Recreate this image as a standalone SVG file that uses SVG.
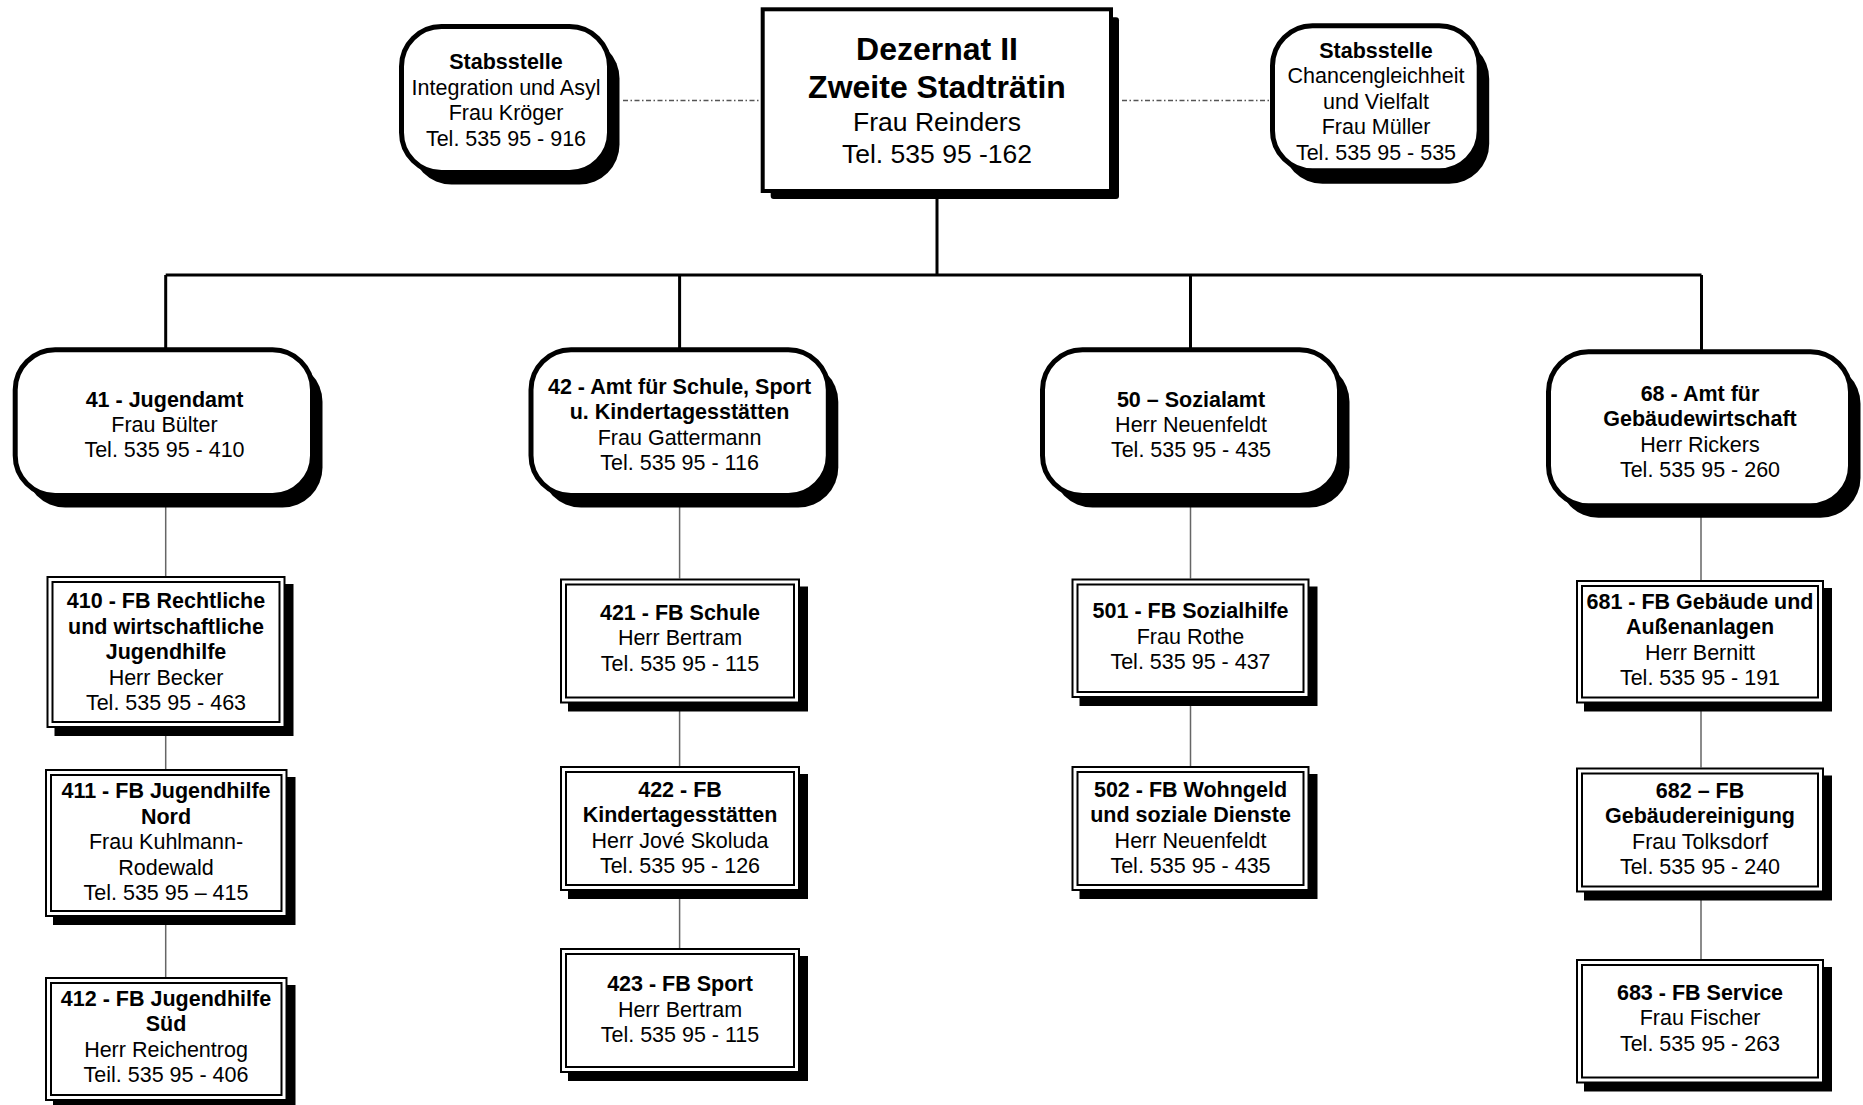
<svg xmlns="http://www.w3.org/2000/svg" width="1863" height="1105" viewBox="0 0 1863 1105">
<style>
.t{font-family:"Liberation Sans",Arial,sans-serif;font-size:21.5px;text-anchor:middle;fill:#000}
.b{font-weight:bold}
.big{font-size:32px;font-weight:bold}
.mid{font-size:26.5px}
.sh{fill:#000}
.rb{fill:#fff;stroke:#000;stroke-width:5}
.db{fill:#fff;stroke:#000;stroke-width:4}
.o{fill:#fff;stroke:#000;stroke-width:2}
.i{fill:none;stroke:#000;stroke-width:2}
.thick{stroke:#000;stroke-width:3;fill:none}
.thin{stroke:#666;stroke-width:1.5;fill:none}
.dash{stroke:#555;stroke-width:1.3;fill:none;stroke-dasharray:5 2.5 1.5 2.5}
</style>
<rect width="1863" height="1105" fill="#fff"/>
<g id="connectors">
<path class="thick" d="M937 193V275M165.7 275H1701.5M165.7 275V348M679.6 275V348M1190.5 275V348M1701.5 275V350"/>
<path class="dash" d="M623 100.5H761M1122 100.5H1270"/>
<path class="thin" d="M165.7 498V576M165.7 728V769M165.7 917V977"/>
<path class="thin" d="M679.6 498V578.5M679.6 703.5V766M679.6 891V948"/>
<path class="thin" d="M1190.5 498V578.5M1190.5 698V766"/>
<path class="thin" d="M1701 508V580M1701 703.5V767.5M1701 892.5V959"/>
</g>
<g id="dezernat">
<rect class="sh" x="770.7" y="17.3" width="348.3" height="181.7" rx="3"/>
<rect class="db" x="762.7" y="9.3" width="348.3" height="181.7"/>
<text class="t big" x="937" y="60">Dezernat II</text>
<text class="t big" x="937" y="98">Zweite Stadträtin</text>
<text class="t mid" x="937" y="130.5">Frau Reinders</text>
<text class="t mid" x="937" y="162.5">Tel. 535 95 -162</text>
</g>
<g id="stab-integration">
<rect class="sh" x="411.5" y="38.5" width="208" height="146" rx="40"/>
<rect class="rb" x="401.5" y="26.5" width="208" height="146" rx="40"/>
<text class="t b" x="506" y="69">Stabsstelle</text>
<text class="t" x="506" y="94.5">Integration und Asyl</text>
<text class="t" x="506" y="120">Frau Kröger</text>
<text class="t" x="506" y="145.5">Tel. 535 95 - 916</text>
</g>
<g id="stab-chancen">
<rect class="sh" x="1282.5" y="38.8" width="206.7" height="145" rx="40"/>
<rect class="rb" x="1272.5" y="25.8" width="206.7" height="145" rx="40"/>
<text class="t b" x="1376" y="57.5">Stabsstelle</text>
<text class="t" x="1376" y="83">Chancengleichheit</text>
<text class="t" x="1376" y="108.5">und Vielfalt</text>
<text class="t" x="1376" y="134">Frau Müller</text>
<text class="t" x="1376" y="159.5">Tel. 535 95 - 535</text>
</g>
<g id="amt41">
<rect class="sh" x="25.2" y="361.8" width="297.3" height="145.7" rx="40"/>
<rect class="rb" x="15.2" y="349.8" width="297.3" height="145.7" rx="40"/>
<text class="t b" x="164.5" y="406.7">41 - Jugendamt</text>
<text class="t" x="164.5" y="431.7">Frau Bülter</text>
<text class="t" x="164.5" y="456.7">Tel. 535 95 - 410</text>
</g>
<g id="amt42">
<rect class="sh" x="541" y="361.8" width="297.3" height="145.7" rx="40"/>
<rect class="rb" x="531" y="349.8" width="297.3" height="145.7" rx="40"/>
<text class="t b" x="679.6" y="393.5">42 - Amt für Schule, Sport</text>
<text class="t b" x="679.6" y="419">u. Kindertagesstätten</text>
<text class="t" x="679.6" y="444.5">Frau Gattermann</text>
<text class="t" x="679.6" y="470">Tel. 535 95 - 116</text>
</g>
<g id="amt50">
<rect class="sh" x="1052.5" y="361.8" width="297" height="145.7" rx="40"/>
<rect class="rb" x="1042.5" y="349.8" width="297" height="145.7" rx="40"/>
<text class="t b" x="1191" y="406.7">50 – Sozialamt</text>
<text class="t" x="1191" y="431.7">Herr Neuenfeldt</text>
<text class="t" x="1191" y="456.7">Tel. 535 95 - 435</text>
</g>
<g id="amt68">
<rect class="sh" x="1558.5" y="363.8" width="302" height="154" rx="40"/>
<rect class="rb" x="1548.5" y="351.8" width="302" height="154" rx="40"/>
<text class="t b" x="1700" y="400.5">68 - Amt für</text>
<text class="t b" x="1700" y="426">Gebäudewirtschaft</text>
<text class="t" x="1700" y="451.5">Herr Rickers</text>
<text class="t" x="1700" y="477">Tel. 535 95 - 260</text>
</g>
<g id="fb410">
<rect class="sh" x="54.5" y="584" width="239" height="152"/>
<rect class="o" x="47.5" y="577" width="237" height="150"/>
<rect class="i" x="52.5" y="582" width="227" height="140"/>
<text class="t b" x="166" y="608">410 - FB Rechtliche</text>
<text class="t b" x="166" y="633.5">und wirtschaftliche</text>
<text class="t b" x="166" y="659">Jugendhilfe</text>
<text class="t" x="166" y="684.5">Herr Becker</text>
<text class="t" x="166" y="710">Tel. 535 95 - 463</text>
</g>
<g id="fb411">
<rect class="sh" x="53" y="777" width="242.5" height="148"/>
<rect class="o" x="46" y="770" width="240.5" height="146"/>
<rect class="i" x="51" y="775" width="230.5" height="136"/>
<text class="t b" x="166" y="798">411 - FB Jugendhilfe</text>
<text class="t b" x="166" y="823.5">Nord</text>
<text class="t" x="166" y="849">Frau Kuhlmann-</text>
<text class="t" x="166" y="874.5">Rodewald</text>
<text class="t" x="166" y="900">Tel. 535 95 – 415</text>
</g>
<g id="fb412">
<rect class="sh" x="53" y="985" width="242.5" height="124"/>
<rect class="o" x="46" y="978" width="240.5" height="122"/>
<rect class="i" x="51" y="983" width="230.5" height="112"/>
<text class="t b" x="166" y="1005.5">412 - FB Jugendhilfe</text>
<text class="t b" x="166" y="1031">Süd</text>
<text class="t" x="166" y="1056.5">Herr Reichentrog</text>
<text class="t" x="166" y="1082">Teil. 535 95 - 406</text>
</g>
<g id="fb421">
<rect class="sh" x="568" y="586.5" width="240" height="125"/>
<rect class="o" x="561" y="579.5" width="238" height="123"/>
<rect class="i" x="566" y="584.5" width="228" height="113"/>
<text class="t b" x="680" y="619.5">421 - FB Schule</text>
<text class="t" x="680" y="645">Herr Bertram</text>
<text class="t" x="680" y="670.5">Tel. 535 95 - 115</text>
</g>
<g id="fb422">
<rect class="sh" x="568" y="774" width="240" height="125"/>
<rect class="o" x="561" y="767" width="238" height="123"/>
<rect class="i" x="566" y="772" width="228" height="113"/>
<text class="t b" x="680" y="796.5">422 - FB</text>
<text class="t b" x="680" y="822">Kindertagesstätten</text>
<text class="t" x="680" y="847.5">Herr Jové Skoluda</text>
<text class="t" x="680" y="873">Tel. 535 95 - 126</text>
</g>
<g id="fb423">
<rect class="sh" x="568" y="956" width="240" height="125"/>
<rect class="o" x="561" y="949" width="238" height="123"/>
<rect class="i" x="566" y="954" width="228" height="113"/>
<text class="t b" x="680" y="991">423 - FB Sport</text>
<text class="t" x="680" y="1016.5">Herr Bertram</text>
<text class="t" x="680" y="1042">Tel. 535 95 - 115</text>
</g>
<g id="fb501">
<rect class="sh" x="1079.5" y="586.5" width="238" height="119.5"/>
<rect class="o" x="1072.5" y="579.5" width="236" height="117.5"/>
<rect class="i" x="1077.5" y="584.5" width="226" height="107.5"/>
<text class="t b" x="1190.5" y="618">501 - FB Sozialhilfe</text>
<text class="t" x="1190.5" y="643.5">Frau Rothe</text>
<text class="t" x="1190.5" y="669">Tel. 535 95 - 437</text>
</g>
<g id="fb502">
<rect class="sh" x="1079.5" y="774" width="238" height="125"/>
<rect class="o" x="1072.5" y="767" width="236" height="123"/>
<rect class="i" x="1077.5" y="772" width="226" height="113"/>
<text class="t b" x="1190.5" y="796.5">502 - FB Wohngeld</text>
<text class="t b" x="1190.5" y="822">und soziale Dienste</text>
<text class="t" x="1190.5" y="847.5">Herr Neuenfeldt</text>
<text class="t" x="1190.5" y="873">Tel. 535 95 - 435</text>
</g>
<g id="fb681">
<rect class="sh" x="1584" y="588" width="248" height="123.5"/>
<rect class="o" x="1577" y="581" width="246" height="121.5"/>
<rect class="i" x="1582" y="586" width="236" height="111.5"/>
<text class="t b" x="1700" y="608.5">681 - FB Gebäude und</text>
<text class="t b" x="1700" y="634">Außenanlagen</text>
<text class="t" x="1700" y="659.5">Herr Bernitt</text>
<text class="t" x="1700" y="685">Tel. 535 95 - 191</text>
</g>
<g id="fb682">
<rect class="sh" x="1584" y="775.5" width="248" height="125"/>
<rect class="o" x="1577" y="768.5" width="246" height="123"/>
<rect class="i" x="1582" y="773.5" width="236" height="113"/>
<text class="t b" x="1700" y="797.5">682 – FB</text>
<text class="t b" x="1700" y="823">Gebäudereinigung</text>
<text class="t" x="1700" y="848.5">Frau Tolksdorf</text>
<text class="t" x="1700" y="874">Tel. 535 95 - 240</text>
</g>
<g id="fb683">
<rect class="sh" x="1584" y="967" width="248" height="124.5"/>
<rect class="o" x="1577" y="960" width="246" height="122.5"/>
<rect class="i" x="1582" y="965" width="236" height="112.5"/>
<text class="t b" x="1700" y="999.5">683 - FB Service</text>
<text class="t" x="1700" y="1025">Frau Fischer</text>
<text class="t" x="1700" y="1050.5">Tel. 535 95 - 263</text>
</g>
</svg>
